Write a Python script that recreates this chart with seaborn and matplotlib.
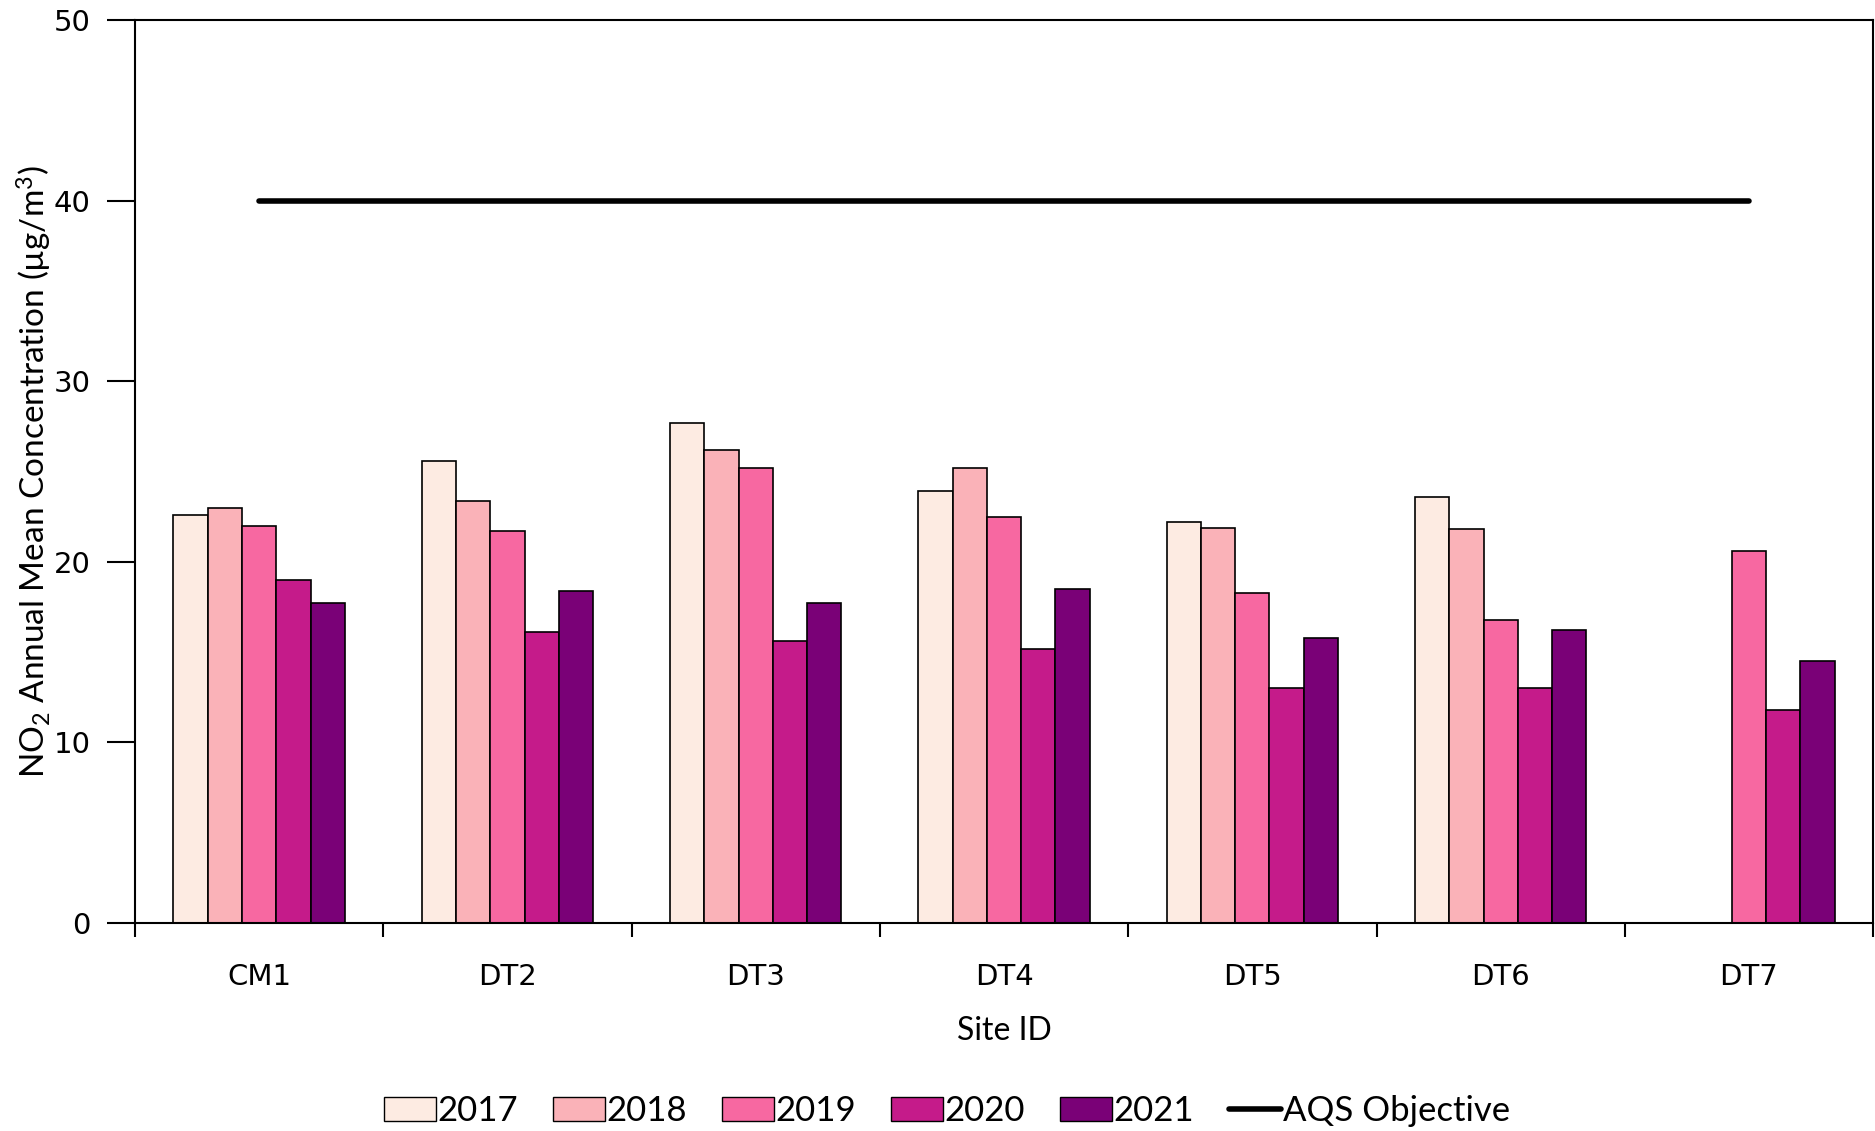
import seaborn as sns
import pandas as pd
import numpy as np
import matplotlib.pyplot as plt
from matplotlib.patches import Patch
from matplotlib.lines import Line2D
from matplotlib.ticker import FixedLocator

sites = ['CM1', 'DT2', 'DT3', 'DT4', 'DT5', 'DT6', 'DT7']
years = ['2017', '2018', '2019', '2020', '2021']
v2017 = [22.6, 25.6, 27.7, 23.9, 22.2, 23.6, np.nan]
v2018 = [23.0, 23.4, 26.2, 25.2, 21.9, 21.8, np.nan]
v2019 = [22.0, 21.7, 25.2, 22.5, 18.3, 16.8, 20.6]
v2020 = [19.0, 16.1, 15.6, 15.2, 13.0, 13.0, 11.8]
v2021 = [17.7, 18.4, 17.7, 18.5, 15.8, 16.2, 14.5]
aqs_objective = [40] * len(sites)
colors = ['#FDEBE2', '#FAB2B8', '#F768A1', '#C51B8A', '#7A0177']

df = pd.DataFrame({'2017': v2017, '2018': v2018, '2019': v2019,
                   '2020': v2020, '2021': v2021}, index=sites)
long = df.reset_index(names='site').melt(id_vars='site', var_name='year', value_name='no2')

sns.set_style('white')
plt.rcParams['font.family'] = ['Lato', 'DejaVu Sans']
plt.rcParams['mathtext.default'] = 'regular'
plt.rcParams['text.color'] = 'black'
plt.rcParams['axes.labelcolor'] = 'black'
plt.rcParams['xtick.color'] = 'black'
plt.rcParams['ytick.color'] = 'black'

fig = plt.figure(figsize=(18.75, 11.31), dpi=100)
ax = fig.add_axes([0.072, 0.184, 0.927, 0.798])

sns.barplot(data=long, x='site', y='no2', hue='year', hue_order=years,
            palette=colors, saturation=1, width=0.69, gap=0, edgecolor='black',
            linewidth=1.2, legend=False, ax=ax)
ax.plot(range(len(sites)), aqs_objective, color='black', lw=4, solid_capstyle='round')

ax.set_xlim(-0.5, len(sites) - 0.5)
ax.set_ylim(0, 50)
ax.set_yticks([0, 10, 20, 30, 40, 50])
ax.xaxis.set_minor_locator(FixedLocator(np.arange(-0.5, len(sites), 1)))
ax.tick_params(axis='x', which='major', length=0, pad=29, labelsize=21,
               labelfontfamily='DejaVu Sans')
ax.tick_params(axis='x', which='minor', length=10, width=1.5, color='black', bottom=True)
ax.tick_params(axis='y', length=20, width=1.5, color='black', left=True, pad=12,
               labelsize=21, labelfontfamily='DejaVu Sans')
for s in ax.spines.values():
    s.set_color('black')
    s.set_linewidth(1.5)

ax.set_xlabel('Site ID', fontsize=23, labelpad=18)
ax.set_ylabel('NO$_2$ Annual Mean Concentration (µg/m$^3$)', fontsize=24, labelpad=0)

handles = [Patch(facecolor=c, edgecolor='black', label=y) for c, y in zip(colors, years)]
handles.append(Line2D([0], [0], color='black', lw=4, label='AQS Objective'))
fig.legend(handles=handles, loc='lower center', bbox_to_anchor=(0.505, -0.015), ncol=6,
           frameon=False, fontsize=25, handlelength=1.5, handletextpad=0.05,
           columnspacing=1.0, borderpad=0.1)

fig.savefig('out.png', dpi=100)
